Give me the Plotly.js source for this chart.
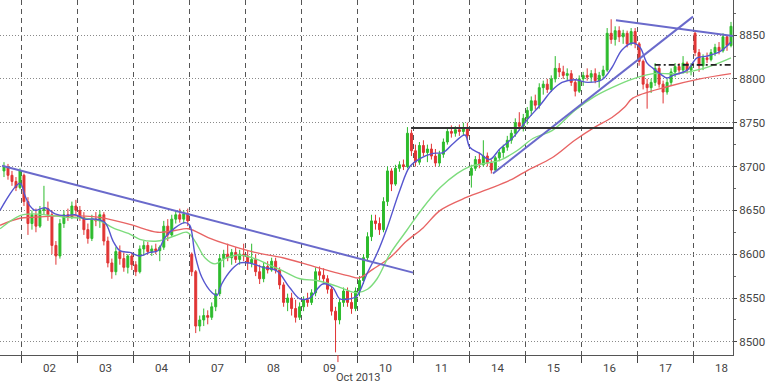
<!DOCTYPE html>
<html><head><meta charset="utf-8">
<script src="https://cdn.plot.ly/plotly-3.0.1.min.js"></script>
<style>html,body{margin:0;padding:0;background:#fff}#chart{width:768px;height:384px}</style>
</head><body><div id="chart"></div>
<script>
// ---- data (hourly candles, [open, high, low, close]) ----
const dayLabels = ['02','03','04','07','08','09','10','11','14','15','16','17','18'];
const monthLabel = 'Oct 2013';
const yTicks = [8500,8550,8600,8650,8700,8750,8800,8850];

const oct01 = [[8695,8705,8688,8700],[8700,8703,8685,8690],[8690,8695,8678,8683],[8683,8688,8672,8676],[8676,8698,8674,8695]];
const oct02 = [[8690,8692,8655,8660],[8660,8665,8622,8635],[8635,8650,8628,8645],[8645,8652,8625,8632],[8632,8655,8630,8650],[8650,8678,8645,8652],[8652,8660,8638,8645],[8645,8650,8600,8610],[8610,8615,8588,8598],[8598,8640,8595,8635],[8635,8650,8630,8645],[8645,8652,8638,8642],[8642,8660,8640,8655],[8655,8662,8645,8650]];
const oct03 = [[8650,8655,8638,8642],[8642,8648,8622,8628],[8628,8635,8612,8618],[8618,8645,8615,8640],[8640,8648,8632,8638],[8638,8650,8630,8645],[8645,8648,8610,8615],[8615,8620,8585,8590],[8590,8595,8572,8580],[8580,8608,8576,8603],[8603,8610,8588,8595],[8595,8602,8580,8585],[8585,8600,8578,8598],[8598,8602,8582,8588]];
const oct04 = [[8588,8592,8575,8580],[8580,8610,8578,8606],[8606,8615,8598,8610],[8610,8614,8600,8603],[8603,8610,8598,8606],[8606,8612,8600,8604],[8604,8610,8592,8608],[8608,8638,8605,8632],[8632,8640,8615,8622],[8622,8645,8620,8640],[8640,8650,8635,8645],[8645,8652,8636,8640],[8640,8650,8635,8646],[8646,8652,8632,8638]];
const oct07 = [[8600,8602,8575,8580],[8580,8582,8510,8518],[8518,8530,8512,8525],[8525,8538,8518,8530],[8530,8536,8520,8528],[8528,8545,8525,8540],[8540,8560,8535,8555],[8555,8600,8552,8595],[8595,8605,8585,8600],[8600,8612,8592,8596],[8596,8606,8588,8602],[8602,8608,8590,8594],[8594,8605,8588,8600],[8600,8612,8592,8598]];
const oct08 = [[8598,8604,8582,8590],[8590,8612,8585,8594],[8594,8600,8575,8580],[8580,8588,8566,8572],[8572,8590,8568,8586],[8586,8592,8578,8582],[8582,8596,8580,8592],[8592,8596,8578,8582],[8582,8585,8560,8565],[8565,8568,8540,8545],[8545,8555,8535,8550],[8550,8556,8530,8538],[8538,8548,8522,8528],[8528,8545,8525,8540]];
const oct09 = [[8540,8552,8535,8548],[8548,8556,8540,8545],[8545,8560,8542,8556],[8556,8585,8552,8580],[8580,8586,8570,8576],[8576,8584,8566,8572],[8572,8576,8555,8560],[8560,8563,8530,8535],[8535,8540,8488,8525],[8525,8550,8520,8545],[8545,8562,8540,8558],[8558,8562,8540,8545],[8545,8556,8532,8538],[8538,8562,8535,8558]];
const oct10 = [[8558,8575,8552,8570],[8570,8600,8566,8596],[8596,8625,8592,8620],[8620,8645,8615,8638],[8638,8645,8628,8635],[8635,8642,8622,8628],[8628,8665,8625,8660],[8660,8700,8655,8695],[8695,8698,8672,8680],[8680,8702,8678,8698],[8698,8706,8694,8702],[8702,8708,8696,8700],[8700,8745,8698,8738],[8738,8742,8712,8718]];
const oct11 = [[8718,8725,8700,8705],[8705,8728,8702,8724],[8724,8730,8712,8716],[8716,8725,8705,8720],[8720,8726,8708,8712],[8712,8720,8700,8704],[8704,8718,8700,8714],[8714,8732,8710,8728],[8728,8745,8725,8740],[8740,8747,8733,8738],[8738,8746,8734,8742],[8742,8748,8735,8740],[8740,8750,8736,8744],[8744,8750,8730,8735]];
const oct14 = [[8690,8702,8676,8698],[8698,8712,8695,8708],[8708,8716,8698,8702],[8702,8730,8700,8712],[8712,8716,8700,8704],[8704,8708,8692,8696],[8696,8712,8694,8710],[8710,8720,8706,8716],[8716,8725,8710,8722],[8722,8735,8718,8730],[8730,8742,8726,8738],[8738,8755,8734,8750],[8750,8762,8742,8746],[8746,8760,8740,8755]];
const oct15 = [[8755,8768,8748,8764],[8764,8780,8758,8775],[8775,8782,8765,8770],[8770,8795,8766,8790],[8790,8798,8782,8794],[8794,8800,8784,8788],[8788,8804,8785,8800],[8800,8826,8796,8812],[8812,8818,8802,8808],[8808,8815,8800,8804],[8804,8812,8798,8806],[8806,8810,8792,8796],[8796,8800,8780,8786],[8786,8804,8784,8800]];
const oct16 = [[8800,8808,8792,8804],[8804,8812,8798,8802],[8802,8810,8796,8806],[8806,8812,8795,8798],[8798,8808,8790,8804],[8804,8815,8800,8810],[8810,8858,8808,8852],[8852,8868,8840,8845],[8845,8860,8838,8855],[8855,8860,8842,8848],[8848,8856,8840,8852],[8852,8855,8836,8840],[8840,8858,8838,8854],[8854,8858,8835,8840]];
const oct17 = [[8840,8842,8815,8820],[8820,8822,8788,8794],[8794,8800,8766,8790],[8790,8800,8784,8796],[8796,8818,8792,8812],[8812,8815,8790,8794],[8794,8798,8772,8785],[8785,8800,8782,8796],[8796,8812,8792,8808],[8808,8818,8802,8814],[8814,8818,8805,8810],[8810,8826,8806,8818],[8818,8820,8806,8810],[8810,8818,8804,8814]];
const oct18 = [[8852,8855,8826,8830],[8830,8834,8808,8815],[8815,8828,8810,8824],[8824,8830,8818,8822],[8822,8834,8820,8830],[8830,8840,8826,8836],[8836,8842,8828,8832],[8832,8852,8830,8848],[8848,8850,8832,8838],[8838,8865,8836,8860]];

// moving averages (x in hourly-bar units, day boundaries every 14)
const maFastX = [-5.5,-0.5,0.75,2,3.25,5.8,8.3,10.8,13.3,15.8,18.3,20.8,22.8,24.5,27,29.5,32,34,35.8,38.3,40.8,42,43.3,45,47.6,48.8,50,52.6,54.6,57,60.3,63.8,67,69.6,72,75.3,77.8,79.6,82,83.8,86.4,88.9,91.4,94.6,97.1,99.6,102.9,105.4,107.9,110.9,112.1,114.6,117.1,119.6,122.9,126.4,129.7,132.7,135.2,138.4,141.7,145.2,147.7,150.2,152.9,154.7,156.5,158,159.7,161.5,163,166.5,169,171.5,174.7,177.5];
const maFastY = [8650,8681,8667,8655,8650,8653,8646,8644,8645,8640,8640,8636,8615,8604,8602,8598,8602,8604,8619,8630,8636,8633,8600,8574,8556,8553,8566,8583,8590,8590,8585,8581,8562,8549,8550,8566,8562,8549,8549,8552,8578,8601,8630,8673,8700,8709,8715,8716,8726,8736,8722,8715,8708,8720,8733,8753,8770,8787,8796,8799,8796,8799,8813,8833,8841,8836,8818,8812,8806,8801,8804,8810,8824,8826,8831,8842];
const maMidX = [-5.5,-0.5,2.75,11.3,15.3,19.5,22.8,27,29.5,34,38.3,41.3,43.3,45.8,48.3,50.8,54.1,58.3,61.3,65.3,69.6,73.8,77.1,80.3,83.8,86.5,88.9,92.1,96.3,100.4,104.7,108.9,112.1,116.4,119.6,123.9,127.9,132.7,138.4,143.4,147.7,153,158,164,170.7,177.5];
const maMidY = [8629,8644,8646,8642,8641,8638,8630,8623,8617,8615,8621,8625,8615,8596,8589,8595,8599,8595,8589,8581,8572,8570,8566,8561,8556,8560,8572,8600,8627,8653,8676,8692,8700,8704,8707,8718,8732,8741,8764,8780,8790,8800,8806,8806,8812,8824];
const maSlowX = [-5.5,-0.5,2.75,11.3,19.5,27,34,38.3,41.6,46.6,50.8,58.3,65.3,73.8,82.1,84.4,87.9,92.1,96.3,100.4,104.7,111.4,117.2,122.9,126.7,132.7,138.4,143.4,147.7,150.9,152.9,161.5,169.7,177.5];
const maSlowY = [8633,8641,8642,8644,8642,8634,8625,8627,8629,8619,8612,8602,8596,8585,8575,8573,8583,8596,8615,8630,8650,8665,8675,8686,8696,8710,8730,8745,8756,8768,8778,8791,8800,8806];

// drawn lines
const trendDownX = [-5.0, 97.9],  trendDownY = [8701, 8579];
const trendUpX   = [117.9, 168.0], trendUpY  = [8692, 8871];
const trendTopX  = [148.7, 178],   trendTopY = [8867, 8849];
const resistX    = [97.4, 178],    resistY   = [8744, 8744];
const supportX   = [158.4, 178],   supportY  = [8816, 8816];

// ---- build ----
const BPD = 14;
const xs = [], op = [], hi = [], lo = [], cl = [];
function addBar(x, b){ xs.push(x); op.push(b[0]); hi.push(b[1]); lo.push(b[2]); cl.push(b[3]); }
oct01.forEach((b, j) => addBar(-oct01.length + j + 0.5, b));
[oct02,oct03,oct04,oct07,oct08,oct09,oct10,oct11,oct14,oct15,oct16,oct17,oct18]
  .forEach((d, k) => d.forEach((b, j) => addBar(k * BPD + j + 0.5, b)));

const boundaries = dayLabels.map((_, k) => k * BPD);
const FONT = 'Roboto, "Liberation Sans", sans-serif';

const traces = [
  {type:'scatter', mode:'lines', x:maSlowX, y:maSlowY, line:{color:'#e86464', width:1.4, shape:'spline'}, hoverinfo:'skip'},
  {type:'scatter', mode:'lines', x:maMidX, y:maMidY, line:{color:'#7ddc7d', width:1.4, shape:'spline'}, hoverinfo:'skip'},
  {type:'candlestick', x:xs, open:op, high:hi, low:lo, close:cl,
   increasing:{line:{color:'#2dbb2d', width:1}, fillcolor:'#2dbb2d'},
   decreasing:{line:{color:'#e03434', width:1}, fillcolor:'#e03434'},
   whiskerwidth:0, hoverinfo:'skip'},
  {type:'scatter', mode:'lines', x:maFastX, y:maFastY, line:{color:'#5656cf', width:1.4, shape:'spline'}, hoverinfo:'skip'},
  {type:'scatter', mode:'lines', x:trendDownX, y:trendDownY, line:{color:'#6a6acb', width:2}},
  {type:'scatter', mode:'lines', x:trendUpX, y:trendUpY, line:{color:'#6a6acb', width:2}},
  {type:'scatter', mode:'lines', x:trendTopX, y:trendTopY, line:{color:'#6a6acb', width:2}},
  {type:'scatter', mode:'lines', x:resistX, y:resistY, line:{color:'#333333', width:2}},
  {type:'scatter', mode:'lines', x:supportX, y:supportY, line:{color:'#222222', width:1.6, dash:'6px,3px,2px,3px'}}
];

const annotations = dayLabels.map((t, k) => ({
  x: k * BPD + BPD / 2, xref:'x', y:0, yref:'paper', yanchor:'top', yshift:-4,
  text:t, showarrow:false, font:{family:FONT, size:11.5, color:'#444'}
}));
annotations.push({x:84.1, xref:'x', y:0, yref:'paper', yanchor:'top', yshift:-15, borderpad:0,
  text:monthLabel, showarrow:false, font:{family:FONT, size:11, color:'#444'}});

const layout = {
  width:768, height:384,
  margin:{l:0, r:35, t:0, b:29, pad:0},
  paper_bgcolor:'#fff', plot_bgcolor:'#fff',
  showlegend:false,
  font:{family:FONT, size:12, color:'#444'},
  xaxis:{
    range:[-5.5, 178], rangeslider:{visible:false},
    tickmode:'array', tickvals:boundaries, showticklabels:false,
    ticks:'outside', ticklen:7, tickcolor:'#444', tickwidth:1,
    showgrid:true, gridcolor:'#555', griddash:'5px,4px', gridwidth:1,
    zeroline:false, showline:true, linecolor:'#555', linewidth:1, fixedrange:true
  },
  yaxis:{
    side:'right', range:[8485, 8890],
    tickmode:'array', tickvals:yTicks,
    ticks:'outside', ticklen:3, tickcolor:'#444',
    minor:{tickmode:'linear', tick0:8475, dtick:25, ticks:'outside', ticklen:2, tickcolor:'#666', showgrid:false},
    showgrid:true, gridcolor:'#8a8a8a', griddash:'1px,2px', gridwidth:1,
    zeroline:false, showline:true, linecolor:'#555', linewidth:1,
    tickfont:{family:FONT, size:11.5, color:'#444'}, fixedrange:true
  },
  shapes:[
    {type:'line', xref:'x', yref:'paper', x0:79.1, x1:79.1, y0:0, y1:-0.02, line:{color:'#e03434', width:1}}
  ],
  annotations
};

Plotly.newPlot('chart', traces, layout, {staticPlot:true, displayModeBar:false});
</script>
</body></html>
